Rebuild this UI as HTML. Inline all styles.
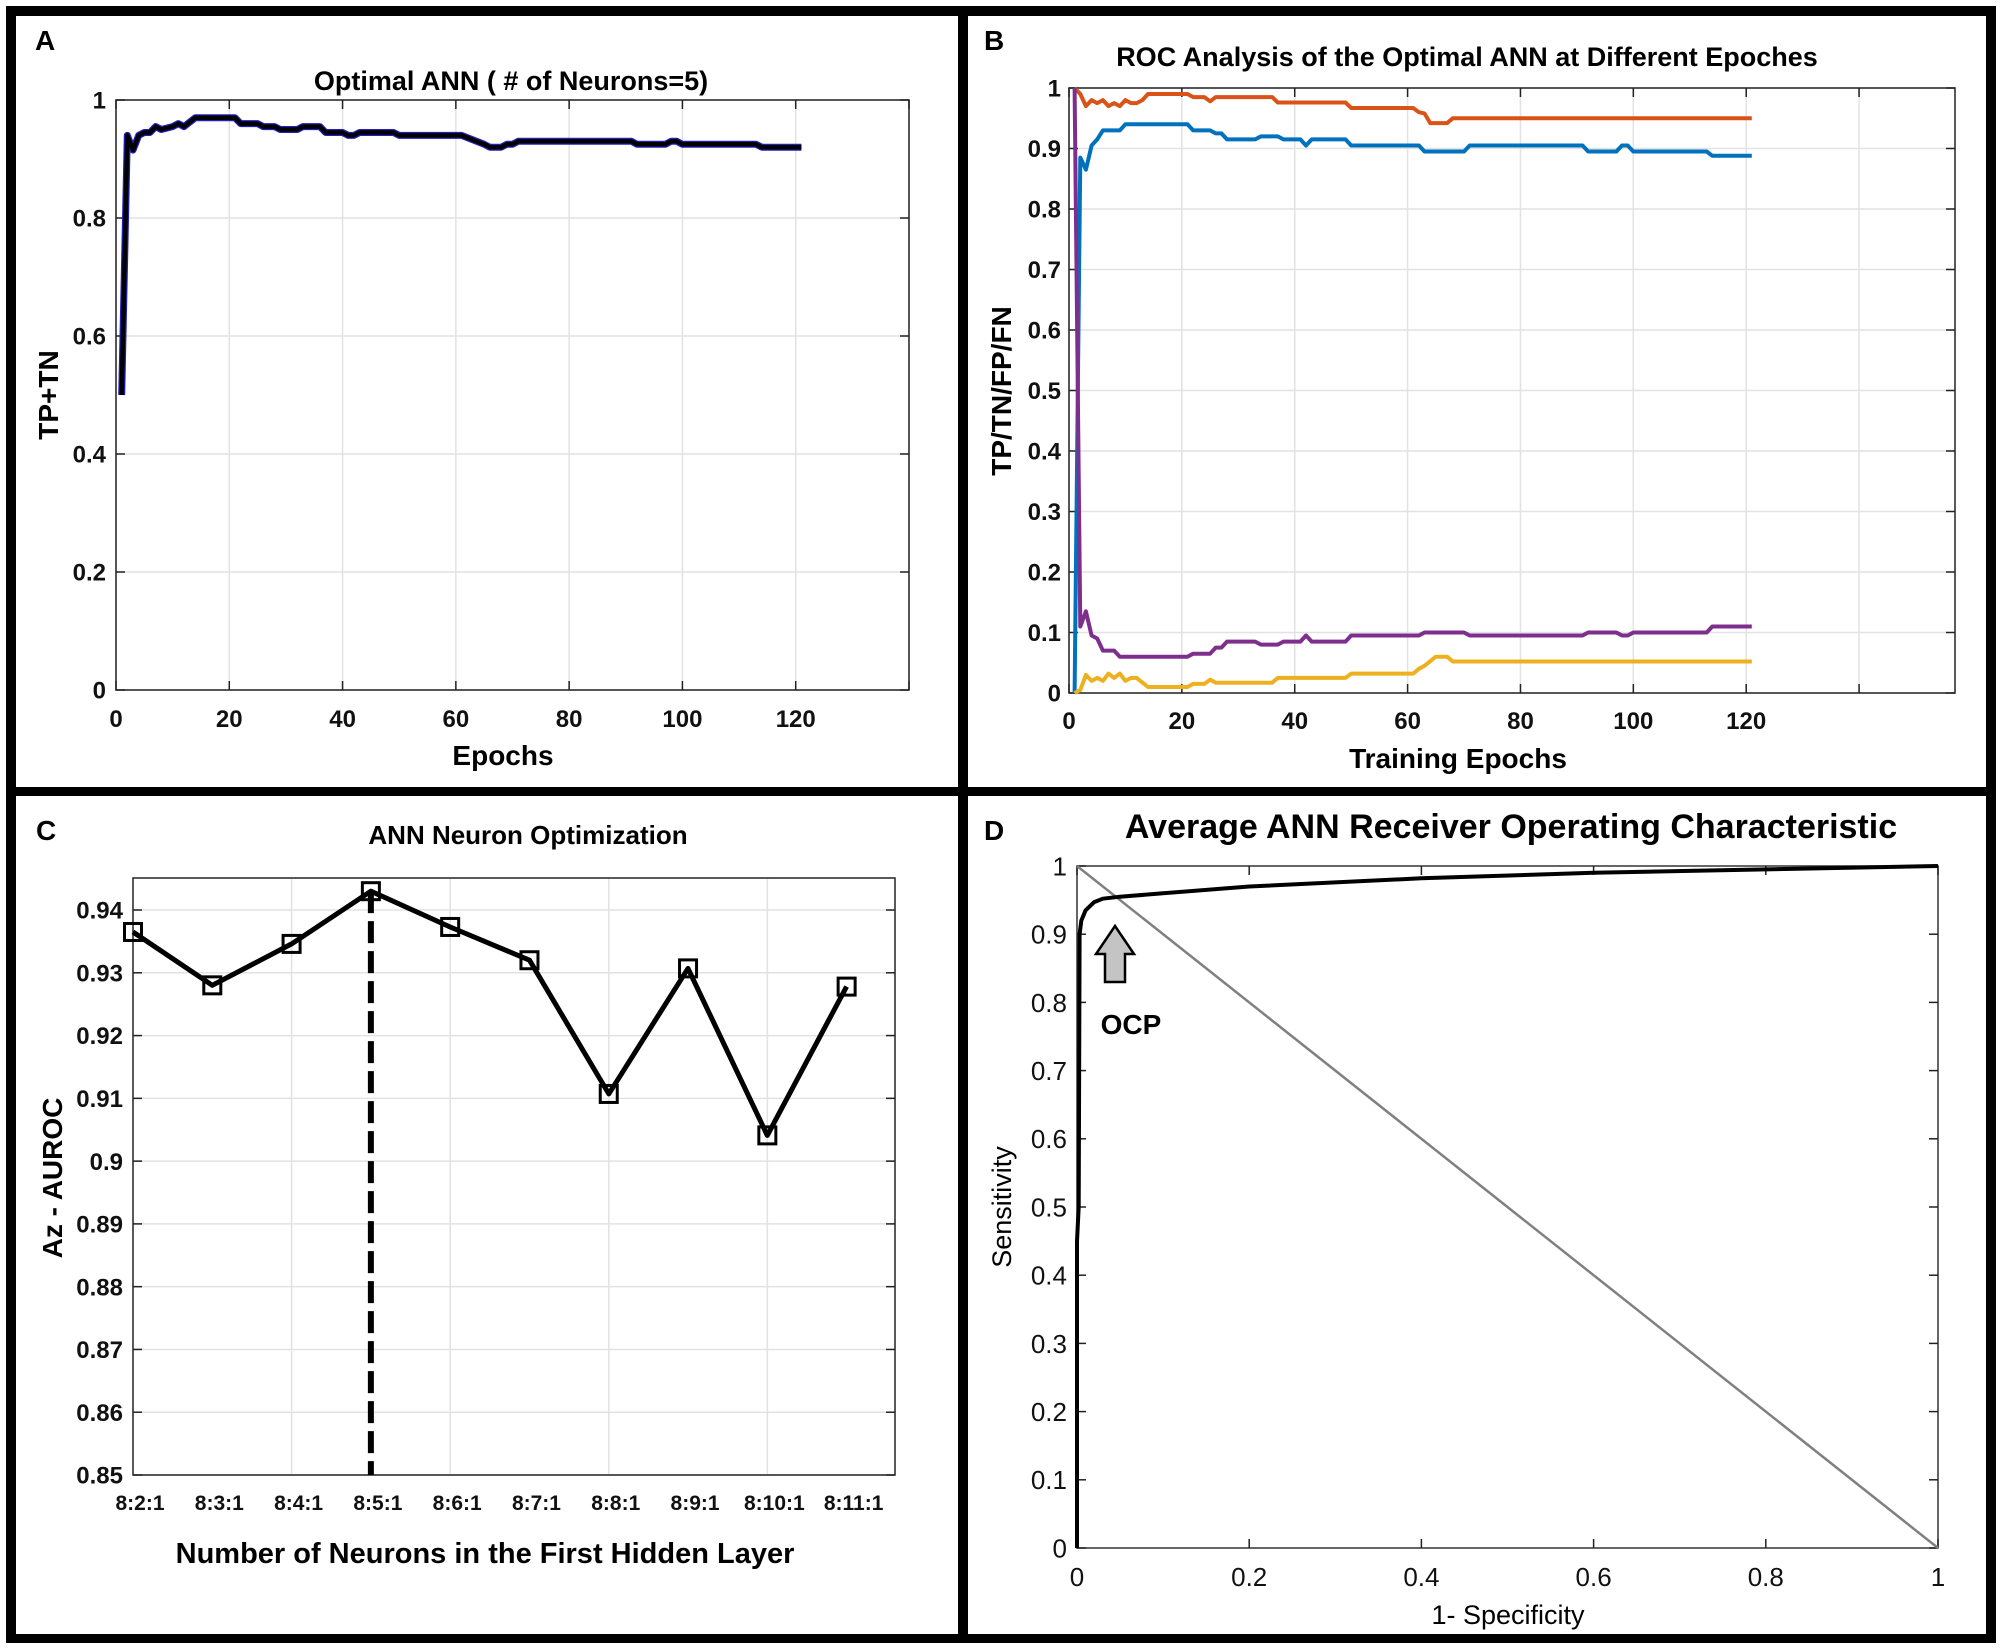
<!DOCTYPE html>
<html><head><meta charset="utf-8">
<style>
html,body{margin:0;padding:0;background:#fff;}
svg{display:block;}
.b{font-family:"Liberation Sans Narrow","Liberation Sans",sans-serif;font-weight:bold;font-stretch:condensed;}
.r{font-family:"Liberation Sans",sans-serif;}
</style></head>
<body>
<svg id="fig" width="2008" height="1651" viewBox="0 0 2008 1651" xmlns="http://www.w3.org/2000/svg">
<rect x="0" y="0" width="2008" height="1651" fill="#fff"/>
<g id="frame" fill="#000">
<rect x="6" y="6" width="1990" height="10"/>
<rect x="6" y="6" width="10" height="1637"/>
<rect x="1986" y="6" width="10" height="1637"/>
<rect x="6" y="1634" width="1990" height="9"/>
<rect x="958" y="6" width="10" height="1637"/>
<rect x="6" y="787" width="1990" height="9"/>
</g>
<text class="r" x="35" y="50" font-size="28" font-weight="bold">A</text>
<text class="r" x="984" y="50" font-size="28" font-weight="bold">B</text>
<text class="r" x="36" y="840" font-size="28" font-weight="bold">C</text>
<text class="r" x="984" y="840" font-size="28" font-weight="bold">D</text>

<text class="b" x="511" y="90" font-size="27" text-anchor="middle">Optimal ANN ( # of Neurons=5)</text>
<text class="b" x="503" y="765" font-size="28" text-anchor="middle">Epochs</text>
<text class="b" x="0" y="0" font-size="28" text-anchor="middle" transform="translate(58,395) rotate(-90)">TP+TN</text>

<text class="b" x="1467" y="66" font-size="27" text-anchor="middle">ROC Analysis of the Optimal ANN at Different Epoches</text>
<text class="b" x="1458" y="768" font-size="28" text-anchor="middle">Training  Epochs</text>
<text class="b" x="0" y="0" font-size="28" text-anchor="middle" transform="translate(1011,391) rotate(-90)">TP/TN/FP/FN</text>
<text class="b" x="1848" y="125" font-size="23" text-anchor="middle">True-Negative</text>
<text class="b" x="1847" y="172" font-size="23" text-anchor="middle">True-Positive</text>
<text class="b" x="1840" y="634" font-size="23" text-anchor="middle">False-Negative</text>
<text class="b" x="1843" y="669" font-size="23" text-anchor="middle">False-Positive</text>

<text class="b" x="528" y="844" font-size="26" text-anchor="middle">ANN Neuron Optimization</text>
<text class="b" x="485" y="1563" font-size="29" text-anchor="middle">Number of Neurons in the First Hidden Layer</text>
<text class="b" x="0" y="0" font-size="28" text-anchor="middle" transform="translate(62,1178) rotate(-90)">Az - AUROC</text>

<text class="b" x="1511" y="838" font-size="34" text-anchor="middle">Average ANN Receiver Operating Characteristic</text>
<text class="r" x="1508" y="1624" font-size="27" text-anchor="middle">1- Specificity</text>
<text class="r" x="0" y="0" font-size="27" text-anchor="middle" transform="translate(1011,1207) rotate(-90)">Sensitivity</text>
</svg>
<script>
// Panel A data
const aEpochs = [1,2,3,4,5,6,7,8,10,11,12,14,21,22,25,26,28,29,32,33,36,37,40,41,42,43,49,50,61,65,66,68,69,70,71,91,92,97,98,99,100,113,114,121];
const aValues = [0.5,0.94,0.915,0.94,0.945,0.945,0.955,0.95,0.955,0.96,0.955,0.97,0.97,0.96,0.96,0.955,0.955,0.95,0.95,0.955,0.955,0.945,0.945,0.94,0.94,0.945,0.945,0.94,0.94,0.925,0.92,0.92,0.925,0.925,0.93,0.93,0.925,0.925,0.93,0.93,0.925,0.925,0.92,0.92];
const aXTicks = [0,20,40,60,80,100,120];
const aYTicks = [0,0.2,0.4,0.6,0.8,1];
const aYTickLabels = ['0','0.2','0.4','0.6','0.8','1'];
// Panel B data
const tnEpochs = [1,2,3,4,5,6,7,8,9,10,11,12,13,14,21,22,24,25,26,36,37,49,50,61,62,63,64,67,68,121];
const tnValues = [1.0,0.99,0.97,0.98,0.975,0.98,0.97,0.975,0.97,0.98,0.975,0.975,0.98,0.99,0.99,0.985,0.985,0.978,0.985,0.985,0.976,0.976,0.967,0.967,0.96,0.958,0.942,0.942,0.95,0.95];
const tpEpochs = [1,2,3,4,5,6,9,10,21,22,25,26,27,28,33,34,37,38,41,42,43,49,50,62,63,70,71,91,92,97,98,99,100,113,114,121];
const tpValues = [0,0.885,0.865,0.905,0.915,0.93,0.93,0.94,0.94,0.93,0.93,0.925,0.925,0.915,0.915,0.92,0.92,0.915,0.915,0.905,0.915,0.915,0.905,0.905,0.895,0.895,0.905,0.905,0.895,0.895,0.905,0.905,0.895,0.895,0.888,0.888];
const fnEpochs = [1,2,3,4,5,6,8,9,21,22,25,26,27,28,33,34,37,38,41,42,43,49,50,62,63,70,71,91,92,97,98,99,100,113,114,121];
const fnValues = [1.0,0.11,0.135,0.095,0.09,0.07,0.07,0.06,0.06,0.065,0.065,0.075,0.075,0.085,0.085,0.08,0.08,0.085,0.085,0.095,0.085,0.085,0.095,0.095,0.1,0.1,0.095,0.095,0.1,0.1,0.095,0.095,0.1,0.1,0.11,0.11];
const fpEpochs = [1,2,3,4,5,6,7,8,9,10,11,12,14,21,22,24,25,26,36,37,49,50,61,62,63,65,67,68,121];
const fpValues = [0,0.005,0.03,0.02,0.025,0.02,0.032,0.025,0.032,0.02,0.025,0.025,0.01,0.01,0.015,0.015,0.022,0.017,0.017,0.025,0.025,0.032,0.032,0.04,0.045,0.06,0.06,0.052,0.052];
const bXTicks = [0,20,40,60,80,100,120];
const bYTicks = [0,0.1,0.2,0.3,0.4,0.5,0.6,0.7,0.8,0.9,1];
const bYTickLabels = ['0','0.1','0.2','0.3','0.4','0.5','0.6','0.7','0.8','0.9','1'];
// Panel C data
const cCategories = ['8:2:1','8:3:1','8:4:1','8:5:1','8:6:1','8:7:1','8:8:1','8:9:1','8:10:1','8:11:1'];
const cValues = [0.9365,0.928,0.9346,0.943,0.9373,0.932,0.9107,0.9307,0.9041,0.9278];
const cOptimalIndex = 3;
const cYTicks = [0.85,0.86,0.87,0.88,0.89,0.9,0.91,0.92,0.93,0.94];
const cYTickLabels = ['0.85','0.86','0.87','0.88','0.89','0.9','0.91','0.92','0.93','0.94'];
// Panel D data
const rocFpr = [0,0,0.002,0.003,0.005,0.01,0.02,0.03,0.05,0.1,0.2,0.4,0.6,0.8,1];
const rocTpr = [0,0.45,0.5,0.9,0.92,0.935,0.947,0.952,0.955,0.96,0.97,0.982,0.99,0.995,1];
const dTicks = [0,0.2,0.4,0.6,0.8,1];
const dTickLabels = ['0','0.2','0.4','0.6','0.8','1'];
const dYTicks = [0,0.1,0.2,0.3,0.4,0.5,0.6,0.7,0.8,0.9,1];
const dYTickLabels = ['0','0.1','0.2','0.3','0.4','0.5','0.6','0.7','0.8','0.9','1'];

const NS='http://www.w3.org/2000/svg';
const svg=document.getElementById('fig');
function mk(tag,attrs,parent){const e=document.createElementNS(NS,tag);for(const k in attrs)e.setAttribute(k,attrs[k]);(parent||svg).appendChild(e);return e;}
function scale(d0,d1,r0,r1){return v=>r0+(v-d0)/(d1-d0)*(r1-r0);}

function axes(ax,name,xt,yt,ytl,opts){
  const g=mk('g',{});
  
  
  mk('rect',{x:ax.l,y:ax.t,width:ax.r-ax.l,height:ax.b-ax.t,fill:'#fff'},g);
  xt.forEach(v=>{const x=ax.x(v);if(opts.grid)mk('line',{x1:x,x2:x,y1:ax.t,y2:ax.b,stroke:'#e2e2e2','stroke-width':1.5},g);});
  yt.forEach(v=>{const y=ax.y(v);if(opts.grid)mk('line',{x1:ax.l,x2:ax.r,y1:y,y2:y,stroke:'#e2e2e2','stroke-width':1.5},g);});
  mk('rect',{x:ax.l,y:ax.t,width:ax.r-ax.l,height:ax.b-ax.t,fill:'none',stroke:opts.box||'#222','stroke-width':1.5},g);
  xt.forEach(v=>{const x=ax.x(v);mk('line',{x1:x,x2:x,y1:ax.b,y2:ax.b-9,stroke:'#222','stroke-width':1.5},g);mk('line',{x1:x,x2:x,y1:ax.t,y2:ax.t+9,stroke:'#222','stroke-width':1.5},g);});
  yt.forEach((v,i)=>{const y=ax.y(v);
    mk('line',{x1:ax.l,x2:ax.l+9,y1:y,y2:y,stroke:'#222','stroke-width':1.5},g);
    mk('line',{x1:ax.r,x2:ax.r-9,y1:y,y2:y,stroke:'#222','stroke-width':1.5},g);
    const t=mk('text',{x:ax.l-opts.ypad,y:y+opts.fs*0.36,'text-anchor':'end','font-size':opts.fs,class:opts.cls,fill:'#111'},g);
    
    
    t.textContent=ytl[i];});
  return g;
}
function xlabels(ax,vals,labels,y,fs,cls){
  vals.forEach((v,i)=>{const t=mk('text',{x:ax.x(v),y:y,'text-anchor':'middle','font-size':fs,class:cls,fill:'#111'});
    
    
    t.textContent=labels[i];});
}
function line(ax,xs,ys,color,w,name){
  const p=xs.map((x,i)=>ax.x(x).toFixed(1)+','+ax.y(ys[i]).toFixed(1)).join(' ');
  const e=mk('polyline',{points:p,fill:'none',stroke:color,'stroke-width':w,'stroke-linejoin':'round'});
  
  
  return e;
}

// Panel A
const A={l:116,r:909,t:100,b:690};A.x=scale(0,140,A.l,A.r);A.y=scale(0,1,A.b,A.t);
axes(A,'panel-a',[0,20,40,60,80,100,120,140],aYTicks,aYTickLabels,{grid:true,fs:24,ypad:10,cls:'b'});
xlabels(A,aXTicks,aXTicks.map(String),727,24,'b');
line(A,aEpochs,aValues,'#2020c0',7,'tp-tn-line-outline');
line(A,aEpochs,aValues,'#000',4.5,'tp-tn-line');

// Panel B
const B={l:1069,r:1955,t:88,b:693};B.x=scale(0,157,B.l,B.r);B.y=scale(0,1,B.b,B.t);
axes(B,'panel-b',[0,20,40,60,80,100,120,140],bYTicks,bYTickLabels,{grid:true,fs:24,ypad:8,cls:'b'});
xlabels(B,bXTicks,bXTicks.map(String),729,24,'b');
line(B,tpEpochs,tpValues,'#0072BD',4,'true-positive-line');
line(B,fpEpochs,fpValues,'#EDB120',4,'false-positive-line');
line(B,tnEpochs,tnValues,'#D95319',4,'true-negative-line');
line(B,fnEpochs,fnValues,'#7E2F8E',4,'false-negative-line');

// Panel C
const C={l:133,r:895,t:878,b:1475};C.x=scale(0,9.61,C.l,C.r);C.y=scale(0.85,0.9451,C.b,C.t);
const cIdx=cCategories.map((c,i)=>i);
const cg=axes(C,'panel-c',[],cYTicks,cYTickLabels,{grid:true,fs:24,ypad:10,cls:'b'});
[2,4,6,8].forEach(i=>{const x=C.x(i);mk('line',{x1:x,x2:x,y1:C.t+1,y2:C.b-1,stroke:'#e2e2e2','stroke-width':1.5});});
xlabels({x:v=>C.x(v)+7},cIdx,cCategories,1510,21,'b');
const dash=mk('line',{x1:C.x(cOptimalIndex),x2:C.x(cOptimalIndex),y1:C.y(cValues[cOptimalIndex]),y2:C.b,stroke:'#000','stroke-width':6,'stroke-dasharray':'22 8'});


line(C,cIdx,cValues,'#000',5,'auroc-line');
cValues.forEach((v,i)=>{const s=17;const m=mk('rect',{x:C.x(i)-s/2,y:C.y(v)-s/2,width:s,height:s,fill:'none',stroke:'#000','stroke-width':3});
  
  });

// Panel D
const D={l:1077,r:1938,t:866,b:1548};D.x=scale(0,1,D.l,D.r);D.y=scale(0,1,D.b,D.t);
axes(D,'panel-d',dTicks,dYTicks,dYTickLabels,{grid:false,fs:26,ypad:10,cls:'r',box:'#333'});
xlabels(D,dTicks,dTickLabels,1586,26,'r');
const diag=line(D,[0,1],[1,0],'#808080',2.5,'chance-diagonal');
line(D,rocFpr,rocTpr,'#000',4,'roc-curve');
const arrow=mk('polygon',{points:[[1115,926],[1134,954],[1125,954],[1125,982],[1105,982],[1105,954],[1096,954]].map(p=>p.join(',')).join(' '),fill:'#c4c4c4',stroke:'#000','stroke-width':2.5});


const ocp=mk('text',{x:1131,y:1034,'text-anchor':'middle','font-size':28,class:'b'});


ocp.textContent='OCP';
</script>
</body></html>
